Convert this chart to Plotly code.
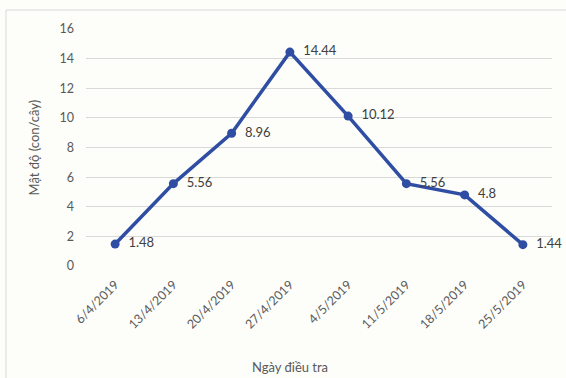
import plotly.graph_objects as go

dates = ["6/4/2019", "13/4/2019", "20/4/2019", "27/4/2019", "4/5/2019", "11/5/2019", "18/5/2019", "25/5/2019"]
density = [1.48, 5.56, 8.96, 14.44, 10.12, 5.56, 4.8, 1.44]
y_ticks = [0, 2, 4, 6, 8, 10, 12, 14, 16]
labels = ["1.48", "5.56", "8.96", "14.44", "10.12", "5.56", "4.8", "1.44"]

W, H = 566, 378
ml, mr, mt, mb = 86, 14, 29, 112
font = "Lato, 'Open Sans', sans-serif"

fig = go.Figure()
fig.add_trace(go.Scatter(
    x=dates, y=density, mode="lines+markers+text",
    text=["  " + t for t in labels], textposition="middle right",
    textfont=dict(family=font, size=13, color="#404040"),
    line=dict(color="#2f4ea3", width=3.5),
    marker=dict(color="#2f4ea3", size=9),
    cliponaxis=False, hoverinfo="skip",
))

fig.update_layout(
    width=W, height=H,
    margin=dict(l=ml, r=mr, t=mt, b=mb),
    paper_bgcolor="#fdfdfa", plot_bgcolor="#fdfdfa",
    showlegend=False,
    font=dict(family=font, color="#595959", size=12),
    xaxis=dict(type="category", range=[-0.5, 7.5], tickangle=-45,
               showgrid=False, showline=False, ticks="",
               tickfont=dict(size=12.5, color="#595959"), zeroline=False,
               ticklabelstandoff=8),
    yaxis=dict(range=[0, 16], tickvals=y_ticks, showgrid=True, gridcolor="#d9d9d9",
               gridwidth=1, zeroline=False, showline=False, ticks="",
               tickfont=dict(size=12.5, color="#595959"), ticklabelstandoff=11),
    annotations=[
        dict(text="Mật độ (con/cây)", textangle=-90, xref="paper", yref="paper",
             x=(33 - ml) / (W - ml - mr), y=0.5, showarrow=False,
             font=dict(size=13, color="#595959"), xanchor="center", yanchor="middle"),
        dict(text="Ngày điều tra", xref="paper", yref="paper",
             x=(290 - ml) / (W - ml - mr), y=-(367 - (H - mb)) / (H - mt - mb), showarrow=False,
             font=dict(size=13, color="#595959"), xanchor="center", yanchor="middle"),
    ],
    shapes=[dict(type="rect", xref="paper", yref="paper",
                 x0=-(ml - 6) / (W - ml - mr), x1=(W - ml + 5) / (W - ml - mr),
                 y0=-(H - mb + 5) / (H - mt - mb), y1=1 + (mt - 10) / (H - mt - mb),
                 line=dict(color="#d9d9d9", width=1), layer="below")],
)

fig.write_html("out.html")
